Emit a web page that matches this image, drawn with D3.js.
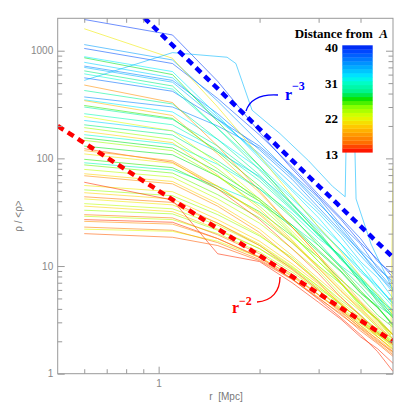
<!DOCTYPE html>
<html lang="en">
<head>
<meta charset="utf-8">
<style>
  html, body { margin: 0; padding: 0; background: #fff; overflow: hidden; }
  svg { display: block; }
</style>
</head>
<body>
<svg width="411" height="411"></svg>
<script src="https://d3js.org/d3.v7.min.js"></script>
<script>
// radii at which the profiles were sampled [Mpc]
const radii = [0.6, 1.1, 1.5, 2, 2.5, 3, 3.5, 4, 4.5, 5];

// distance from A of each profile (same order as densities)
const distances = [
  39, 38, 37, 36, 35, 36,
  32, 33, 31, 32, 33, 31, 30, 30, 34,
  27, 28, 29, 26, 28, 27, 26, 25, 29, 27,
  21, 22, 24, 20, 23, 20, 21, 24, 20, 21, 23, 20, 24, 23, 22, 19, 24,
  17, 15, 17, 14, 16, 16, 14, 17, 16, 15, 18
];

// rho / <rho> of each profile at the radii above
const densities = [
  [1950, 1400, 520, 175, 80, 44, 27, 16.5, 11.5, 7.8],
  [1050, 760, 360, 165, 84, 46, 28, 18, 11, 8.5],
  [560, 420, 230, 130, 72, 43, 24, 16, 9.5, 7.2],
  [372, 300, 200, 125, 68, 38, 23.5, 14, 10, 6.8],
  [1140, 820, 340, 140, 70, 40, 22, 13.5, 9, 6.2],
  [720, 530, 260, 120, 64, 35, 21, 13.5, 8.5, 6],
  [880, 640, 250, 100, 50, 28, 16, 10.5, 6.5, 4.6],
  [780, 560, 240, 105, 52, 31, 18.5, 11, 7.8, 5],
  [610, 440, 190, 85, 44, 23, 14, 9.4, 6, 4.2],
  [350, 270, 150, 80, 42, 25, 16, 9.2, 6.6, 4.4],
  [225, 180, 115, 68, 38, 22, 14, 8.8, 6.4, 4.5],
  [166, 135, 88, 52, 31, 18, 12.5, 8, 5.2, 3.7],
  [91, 78, 55, 38, 24, 15.5, 10, 7.4, 5, 3.9],
  [260, 205, 120, 62, 33, 19.5, 12, 7.6, 5.5, 3.8],
  [700, 510, 230, 110, 58, 33, 20, 12.5, 8.4, 5.7],
  [860, 600, 220, 85, 38, 20, 12, 7, 4.8, 3.3],
  [650, 470, 190, 78, 37, 21, 11.5, 7.8, 4.6, 3.3],
  [427, 320, 150, 70, 35, 19, 12, 7.2, 5.2, 3.4],
  [310, 235, 115, 55, 29, 15.5, 9.6, 5.9, 4.1, 2.9],
  [205, 165, 95, 52, 28, 16.5, 9.8, 6.5, 4.3, 3.4],
  [155, 125, 75, 42, 24, 14, 9, 5.7, 4.2, 2.8],
  [98, 82, 52, 32, 19, 12, 7.4, 5.2, 3.5, 2.7],
  [87, 73, 46, 28, 16.5, 10, 6.8, 4.4, 3.2, 2.3],
  [300, 230, 130, 66, 34, 19.5, 11.5, 7.6, 4.9, 3.5],
  [130, 108, 68, 40, 23, 13.5, 8.8, 5.6, 4.1, 2.8],
  [1600, 850, 300, 105, 45, 23, 13.5, 8, 5.4, 3.6],
  [245, 180, 90, 42, 21, 12, 6.8, 4.5, 3, 2.3],
  [193, 150, 80, 40, 20, 11, 6.9, 4.2, 3.2, 2.1],
  [178, 140, 70, 34, 17.5, 9.5, 5.8, 3.9, 2.7, 2.1],
  [79, 67, 42, 25, 14.5, 9, 5.4, 3.8, 2.7, 2.0],
  [72, 61, 38, 22, 12.5, 7.6, 5.1, 3.4, 2.6, 1.9],
  [56, 49, 32, 19.5, 11.5, 7.2, 4.6, 3.3, 2.4, 1.9],
  [51, 45, 30, 19, 12, 7.2, 4.8, 3.5, 2.5, 2.0],
  [48, 42, 27, 17, 10.5, 6.8, 4.4, 3.1, 2.35, 1.75],
  [42, 37, 25, 16, 10, 6.4, 4.5, 3.05, 2.3, 1.85],
  [38, 34, 24, 15.5, 9.8, 6.5, 4.3, 3.2, 2.35, 1.9],
  [36, 32, 22, 14.5, 9.2, 6, 4.1, 3, 2.2, 1.7],
  [33, 30.5, 21.5, 14.5, 9.6, 6.2, 4.4, 3.1, 2.45, 1.95],
  [29, 27, 20, 13.5, 8.8, 5.9, 4, 2.9, 2.3, 1.8],
  [22, 21, 17, 12, 8.2, 5.4, 3.9, 2.8, 2.2, 1.7],
  [344, 250, 110, 48, 23, 12.5, 7.6, 4.7, 3.3, 2.3],
  [147, 118, 68, 36, 19.5, 11, 7, 4.4, 3.2, 2.3],
  [480, 330, 130, 50, 23, 12.5, 7, 4.6, 3.1, 2.3],
  [123, 92, 52, 27, 14.5, 8.5, 5.1, 3.5, 2.4, 1.85],
  [69, 58, 36, 20.5, 11.5, 7, 4.4, 3.1, 2.2, 1.65],
  [60, 41, 13, 11, 7, 4.6, 3.2, 2.2, 1.7, 1.25],
  [44, 39, 25, 15.5, 9.4, 6, 3.9, 2.8, 2.05, 1.55],
  [30, 28, 19.5, 13, 8.4, 5.4, 3.8, 2.65, 2.0, 1.6],
  [27, 25.5, 18, 12, 7.6, 4.9, 3.3, 2.3, 1.6, 1.05],
  [26, 24.5, 18, 12.2, 8, 5.4, 3.7, 2.7, 2.1, 1.6],
  [23, 21.5, 16.5, 11.5, 7.6, 5.1, 3.5, 2.6, 1.95, 1.5],
  [20, 18.5, 15.5, 11.2, 7.5, 5, 3.6, 2.5, 1.9, 1.45],
  [118, 95, 55, 30, 16.5, 9.6, 5.9, 4, 2.8, 2.1]
];

// two profiles sampled on their own radii (the spiky ones)
const oddRadii = [
  [0.6, 1.1, 1.6, 1.7, 1.9, 2.3, 2.8, 3.3, 3.6, 3.62, 3.85, 3.88, 4.3, 5],
  [0.6, 1.1, 1.5, 2, 2.5, 3, 3.5, 4, 4.5, 4.93, 5]
];
const oddDistances = [34, 21];
const oddDensities = [
  [530, 960, 870, 760, 280, 170, 95, 55, 44, 118, 118, 42, 16, 6],
  [110, 90, 55, 31, 17, 10, 6.2, 4.1, 2.9, 2.3, 85]
];

// reference power laws: norm * r^slope
const slopes = [-3, -2];
const slopeNorms = [1500, 50];
const slopeLabels = ["\u22123", "\u22122"];

const legendTicks = [13, 22, 31, 40];
const yMajor = [1, 10, 100, 1000];
const yMinor = [2, 3, 4, 5, 6, 7, 8, 9, 20, 30, 40, 50, 60, 70, 80, 90, 200, 300, 400, 500, 600, 700, 800, 900];
const xMajor = [1];
const xMinor = [0.6, 0.7, 0.8, 0.9, 2, 3, 4];

const svg = d3.select("svg");
const pLeft = 57.7, pRight = 393, pTop = 18.3, pBottom = 373.7;

const x = d3.scaleLog().domain([0.5, 5]).range([pLeft, pRight]);
const y = d3.scaleLog().domain([1, 2000]).range([pBottom, pTop]);

// rainbow colour table, red (near) to blue (far)
const color = d3.scaleLinear()
  .domain([13, 15.3, 17.8, 19.9, 22, 24.5, 26.7, 28, 30.8, 32, 34.6, 38.8, 40])
  .range(["#ff0000", "#ff6a00", "#ffa000", "#ffd200", "#e0ff00", "#88ff00", "#00e000",
          "#00f080", "#00ffcc", "#00eeff", "#00a8ff", "#0040ff", "#0020ee"]);

svg.append("defs").append("clipPath").attr("id", "plot")
  .append("rect").attr("x", pLeft).attr("y", pTop)
  .attr("width", pRight - pLeft).attr("height", pBottom - pTop);

const plot = svg.append("g").attr("clip-path", "url(#plot)");

const line = d3.line().x(d => x(d[0])).y(d => y(d[1]));

// profiles
const profiles = densities.map((v, i) => ({ d: distances[i], pts: radii.map((r, j) => [r, v[j]]) }))
  .concat(oddDensities.map((v, i) => ({ d: oddDistances[i], pts: oddRadii[i].map((r, j) => [r, v[j]]) })));

plot.append("g")
  .selectAll("path")
  .data(profiles)
  .join("path")
  .attr("d", p => line(p.pts))
  .attr("fill", "none")
  .attr("stroke", p => color(p.d))
  .attr("stroke-opacity", 0.68)
  .attr("stroke-width", 0.85);

// power-law guides
const guideColors = ["#0000ff", "#ff0000"];
slopes.forEach((s, i) => {
  const rs = d3.range(0, 61).map(k => 0.5 * Math.pow(10, k / 60));
  plot.append("path")
    .attr("d", line(rs.map(r => [r, slopeNorms[i] * Math.pow(r, s)])))
    .attr("fill", "none")
    .attr("stroke", guideColors[i])
    .attr("stroke-width", 4.5)
    .attr("stroke-dasharray", "7,5");
});

// frame and ticks
const axisColor = "#999";
svg.append("rect")
  .attr("x", pLeft).attr("y", pTop)
  .attr("width", pRight - pLeft).attr("height", pBottom - pTop)
  .attr("fill", "none").attr("stroke", axisColor);

function drawAxis(axis, tx, ty, size, values, labels) {
  const g = svg.append("g")
    .attr("transform", `translate(${tx},${ty})`)
    .call(axis.tickValues(values).tickSize(size).tickSizeOuter(0)
      .tickFormat(labels ? d3.format("d") : ""));
  g.select(".domain").remove();
  g.selectAll("line").attr("stroke", axisColor);
  g.selectAll("text")
    .attr("fill", "#888")
    .attr("font-family", "Liberation Sans, sans-serif")
    .attr("font-size", 10);
  return g;
}

drawAxis(d3.axisBottom(x).tickPadding(6), 0, pBottom, -7, xMajor, true);
drawAxis(d3.axisBottom(x), 0, pBottom, -4.5, xMinor, false);
drawAxis(d3.axisTop(x), 0, pTop, -7, xMajor, false);
drawAxis(d3.axisTop(x), 0, pTop, -4.5, xMinor, false);
drawAxis(d3.axisLeft(y).tickPadding(4.5), pLeft, 0, -7, yMajor, true);
drawAxis(d3.axisLeft(y), pLeft, 0, -4.5, yMinor, false);
drawAxis(d3.axisRight(y), pRight, 0, -7, yMajor, false);
drawAxis(d3.axisRight(y), pRight, 0, -4.5, yMinor, false);

// axis titles
svg.append("text")
  .attr("x", 226).attr("y", 400)
  .attr("text-anchor", "middle")
  .attr("fill", "#777")
  .attr("font-family", "Liberation Sans, sans-serif")
  .attr("font-size", 10)
  .attr("xml:space", "preserve")
  .text("r  [Mpc]");

svg.append("text")
  .attr("transform", "translate(22,216) rotate(-90)")
  .attr("text-anchor", "middle")
  .attr("fill", "#777")
  .attr("font-family", "Liberation Sans, sans-serif")
  .attr("font-size", 10)
  .text("\u03c1 / <\u03c1>");

// slope annotations
const notes = [
  { rx: 285, ry: 100, ex: 292, ey: 90, path: "M278,95 C262,94 250,99 246,111" },
  { rx: 232, ry: 313, ex: 239, ey: 305, path: "M257,302 C272,301 280,291 280,277" }
];
notes.forEach((n, i) => {
  svg.append("path")
    .attr("d", n.path)
    .attr("fill", "none")
    .attr("stroke", guideColors[i])
    .attr("stroke-width", 1.3);
  const t = svg.append("text")
    .attr("fill", guideColors[i])
    .attr("font-family", "Liberation Serif, serif")
    .attr("font-weight", "bold");
  t.append("tspan").attr("x", n.rx).attr("y", n.ry).attr("font-size", 16).text("r");
  t.append("tspan").attr("x", n.ex).attr("y", n.ey).attr("font-size", 12).text(slopeLabels[i]);
});

// colour bar legend
const lg = d3.scaleLinear().domain([13, 40]).range([152.3, 45.3]);
const bands = d3.range(13, 40);
svg.append("g")
  .selectAll("rect")
  .data(bands)
  .join("rect")
  .attr("x", 342.3)
  .attr("width", 30.4)
  .attr("y", d => lg(d + 1))
  .attr("height", d => lg(d) - lg(d + 1) + 0.3)
  .attr("fill", d => color(d + 0.5));

svg.append("g")
  .selectAll("text")
  .data(legendTicks)
  .join("text")
  .attr("x", 338)
  .attr("y", d => lg(d) + 2)
  .attr("dy", "0.35em")
  .attr("text-anchor", "end")
  .attr("font-family", "Liberation Serif, serif")
  .attr("font-weight", "bold")
  .attr("font-size", 13)
  .text(d => d);

const title = svg.append("text")
  .attr("x", 388).attr("y", 38)
  .attr("text-anchor", "end")
  .attr("font-family", "Liberation Serif, serif")
  .attr("font-weight", "bold")
  .attr("font-size", 13)
  .attr("xml:space", "preserve");
title.append("tspan").text("Distance from  ");
title.append("tspan").attr("font-style", "italic").text("A");
</script>
</body>
</html>
